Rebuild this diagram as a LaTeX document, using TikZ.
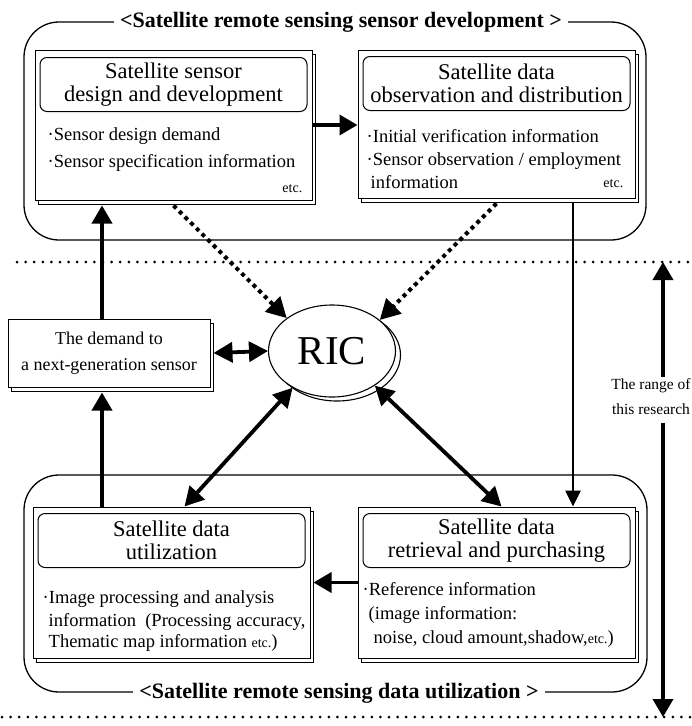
\documentclass[tikz,border=0pt]{standalone}
\usepackage{fontspec}
\setmainfont{Liberation Serif}
\usetikzlibrary{arrows.meta,shapes.geometric,shadows,calc}

\begin{document}
\begin{tikzpicture}[x=1pt,y=-1pt,
  outer/.style={draw, line width=1.3pt, rounded corners=35pt, inner sep=0pt},
  grouptitle/.style={fill=white, inner xsep=6pt, inner ysep=1pt,
    font=\bfseries\fontsize{22}{24}\selectfont},
  card/.style={draw, fill=white, line width=1pt, inner sep=0pt,
    copy shadow={shadow xshift=3pt, shadow yshift=-4pt}},
  headbox/.style={draw, line width=1pt, rounded corners=7pt, align=center,
    minimum width=267pt, minimum height=54pt, inner sep=0pt,
    font=\fontsize{22.5}{23}\selectfont},
  item/.style={anchor=west, inner sep=0pt, font=\fontsize{18.5}{20}\selectfont},
  etcnote/.style={anchor=east, inner sep=0pt, font=\fontsize{14}{16}\selectfont},
  arr/.style={line width=3.6pt, -{Triangle[length=18pt,width=20pt]}},
  thinarr/.style={line width=2.6pt, -{Triangle[length=16pt,width=15pt]}},
  darr/.style={line width=3.8pt, {Triangle[length=19pt,width=20pt]}-{Triangle[length=19pt,width=20pt]}},
  dotarr/.style={line width=4pt, dash pattern=on 4pt off 4pt, -{Triangle[length=20pt,width=21pt]}},
  sepline/.style={line width=3pt, line cap=round, dash pattern=on 0pt off 8.6pt}
]
\useasboundingbox (0,0) rectangle (692,726);

% dotted limits of the research range
\coordinate (s1a) at (17,262);  \coordinate (s1b) at (692,262);
\coordinate (s2a) at (2,717);   \coordinate (s2b) at (692,717);
\draw[sepline] (s1a) -- (s1b);
\draw[sepline] (s2a) -- (s2b);

% group frames
\node[outer, minimum width=622pt, minimum height=218pt] (gtop) at (335,131) {};
\node[outer, minimum width=623pt, minimum height=217pt] (gbot) at (335.5,583.5) {};
\node[grouptitle] (ttop) at (341,22) {<Satellite remote sensing sensor development >};
\node[grouptitle] (tbot) at (339,693) {<Satellite remote sensing data utilization >};

% four process cards
\node[card, minimum width=277pt, minimum height=150pt] (b1) at (173.5,125) {};
\node[card, minimum width=277pt, minimum height=148pt] (b2) at (496.5,124) {};
\node[card, minimum width=277pt, minimum height=151pt] (b3) at (171.5,582.5) {};
\node[card, minimum width=277pt, minimum height=151pt] (b4) at (496.5,582.5) {};

\node[headbox] (h1) at ($(b1.north)+(0,35)$) {Satellite sensor\\design and development};
\node[headbox] (h2) at ($(b2.north)+(0,34)$) {Satellite data\\observation and distribution};
\node[headbox] (h3) at ($(b3.north)+(0,34)$) {Satellite data\\utilization};
\node[headbox] (h4) at ($(b4.north)+(0,34)$) {Satellite data\\retrieval and purchasing};

\node[item] (i11) at ($(b1.north west)+(13,87)$) {·Sensor design demand};
\node[item] (i12) at ($(b1.north west)+(13,113)$) {·Sensor specification information};
\node[etcnote] (e1) at ($(b1.north east)+(-10,139)$) {etc.};

\node[item] (i21) at ($(b2.north west)+(9,87)$) {·Initial verification information};
\node[item] (i22) at ($(b2.north west)+(9,112)$) {·Sensor observation / employment};
\node[item] (i23) at ($(b2.north west)+(13,133)$) {information};
\node[etcnote] (e2) at ($(b2.north east)+(-12,134)$) {etc.};

\node[item] (i31) at ($(b3.north west)+(10,93)$) {·Image processing and analysis};
\node[item] (i32) at ($(b3.north west)+(16,115)$) {information~ (Processing accuracy,};
\node[item] (i33) at ($(b3.north west)+(16,136)$) {Thematic map information {\fontsize{14}{16}\selectfont etc.})};

\node[item] (i41) at ($(b4.north west)+(5,83)$) {·Reference information};
\node[item] (i42) at ($(b4.north west)+(11,108)$) {(image information:};
\node[item] (i43) at ($(b4.north west)+(16,133)$) {noise, cloud amount,shadow,{\fontsize{14}{16}\selectfont etc.})};

% demand box and the centre
\node[card, minimum width=202pt, minimum height=68pt, align=center,
  font=\fontsize{18}{26}\selectfont] (dem) at (109,353) {The demand to\\a next-generation sensor};
\node[ellipse, draw, fill=white, line width=1.1pt, minimum width=127pt, minimum height=92pt,
  inner sep=0pt, copy shadow={shadow xshift=5pt, shadow yshift=-4pt},
  font=\fontsize{41}{41}\selectfont] (ric) at (332,351) {RIC};

% range of this research
\node[align=center, inner sep=2pt, font=\fontsize{15.5}{25}\selectfont] (rng) at (651,397) {The range of\\this research};
\coordinate (rtop) at (663,262);
\coordinate (rbot) at (663,717);
\draw[arr] (rng.north -| rtop) -- (rtop);
\draw[arr] ([yshift=-6pt]rng.south -| rbot) -- (rbot);

% flows
\coordinate (lx) at (102,0);
\coordinate (rx) at (573,0);
\draw[arr] (b1.east) -- (b1.east -| b2.west);
\draw[arr] (b4.west) -- ([xshift=3pt]b4.west -| b3.east);
\draw[arr] (dem.north -| lx) -- ([yshift=-5pt]b1.south -| lx);
\draw[arr] (b3.north -| lx) -- ([yshift=-5pt]dem.south -| lx);
\draw[thinarr] ([yshift=-4pt]b2.south -| rx) -- (b4.north -| rx);
\draw[darr] ([xshift=3pt]dem.east) -- (ric.west);
\draw[darr] (ric.223) -- ([xshift=13pt]b3.north);
\draw[darr] (ric.321) -- ([xshift=5pt]b4.north);
\draw[dotarr] ([yshift=-5pt]b1.south) -- (ric.144);
\draw[dotarr] ([yshift=-5pt]b2.south) -- (ric.33);
\end{tikzpicture}
\end{document}
